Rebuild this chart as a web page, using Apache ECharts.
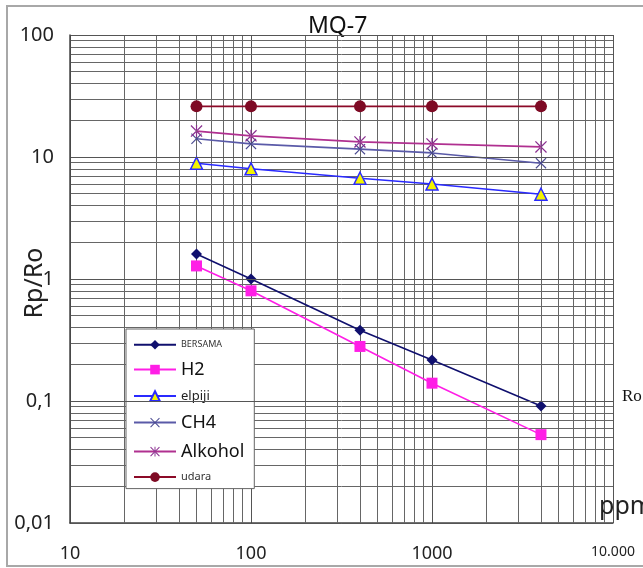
<!DOCTYPE html>
<html>
<head>
<meta charset="utf-8">
<script src="https://cdn.jsdelivr.net/npm/echarts@6/dist/echarts.min.js"></script>
<style>
  html, body { margin: 0; padding: 0; background: #fff; }
  #main { width: 643px; height: 568px; }
</style>
</head>
<body>
<div id="main"></div>
<script>
// gas concentration (ppm)
const ppm = [50, 100, 400, 1000, 4000]

// Rp/Ro per gas
const bersama = [1.6, 1.0, 0.38, 0.217, 0.091]
const h2 = [1.28, 0.8, 0.28, 0.14, 0.053]
const elpiji = [8.9, 8.0, 6.7, 6.0, 4.95]
const ch4 = [14.1, 12.8, 11.6, 10.8, 8.9]
const alkohol = [16.3, 14.9, 13.3, 12.8, 12.1]
const udara = [26, 26, 26, 26, 26]

// tick labels
const xTickLabels = ['10', '100', '1000', '10.000']
const yTickLabels = ['0,01', '0,1', '1', '10', '100']

// minor grid values (log paper)
const xMinor = [20, 30, 40, 50, 60, 70, 80, 90, 200, 300, 400, 500, 600, 700, 800, 900,
  2000, 3000, 4000, 5000, 6000, 7000, 8000, 9000]
const yMinor = [0.02, 0.03, 0.04, 0.05, 0.06, 0.07, 0.08, 0.09, 0.2, 0.3, 0.4, 0.5, 0.6, 0.7, 0.8, 0.9,
  2, 3, 4, 5, 6, 7, 8, 9, 20, 30, 40, 50, 60, 70, 80, 90]

const xSym = 'path://M0,1.5L1.5,0L10,8.5L18.5,0L20,1.5L11.5,10L20,18.5L18.5,20L10,11.5L1.5,20L0,18.5L8.5,10Z'
const starSym = 'path://M0,1.5L1.5,0L10,8.5L18.5,0L20,1.5L11.5,10L20,18.5L18.5,20L10,11.5L1.5,20L0,18.5L8.5,10Z M9,0L9,20L11,20L11,0Z'

const pairs = arr => ppm.map((x, i) => [x, arr[i]])

let myChart = echarts.init(document.getElementById('main'))

const sizeKey = { BERSAMA: 'xs', H2: 'l', elpiji: 'm', CH4: 'l', Alkohol: 'l', udara: 's' }

function mk(name, data, color, symbol, size, extra) {
  return Object.assign({
    name: name,
    type: 'line',
    data: pairs(data),
    symbol: symbol,
    symbolSize: size,
    lineStyle: { color: color, width: 1.6 },
    itemStyle: { color: color },
    z: 5
  }, extra || {})
}

myChart.setOption({
  animation: false,
  title: {
    text: 'MQ-7',
    left: 303,
    top: 10,
    textStyle: { fontFamily: 'Noto Sans', fontSize: 23, fontWeight: 'normal', color: '#111' }
  },
  grid: { left: 70, top: 35, right: 30, bottom: 45, containLabel: false, outerBoundsMode: 'none' },
  xAxis: {
    type: 'log',
    logBase: 10,
    min: 10,
    max: 10000,
    axisLine: { show: true, lineStyle: { color: '#444', width: 1.5 } },
    axisTick: { show: false },
    splitLine: { show: true, lineStyle: { color: '#555', width: 1 } },
    axisLabel: {
      margin: 22,
      color: '#222',
      fontFamily: 'Noto Sans',
      formatter: v => {
        const i = Math.round(Math.log10(v)) - 1
        return i === 3 ? '{s|' + xTickLabels[i] + '}' : '{b|' + xTickLabels[i] + '}'
      },
      rich: {
        b: { fontSize: 18, fontFamily: 'Noto Sans', color: '#222' },
        s: { fontSize: 14, fontFamily: 'Noto Sans', color: '#222' }
      }
    }
  },
  yAxis: {
    type: 'log',
    logBase: 10,
    min: 0.01,
    max: 100,
    z: 30,
    axisLine: { show: true, lineStyle: { color: '#444', width: 1.5 } },
    axisTick: { show: false },
    splitLine: { show: true, lineStyle: { color: '#555', width: 1 } },
    axisLabel: {
      margin: 16,
      fontSize: 20,
      fontFamily: 'Noto Sans',
      color: '#222',
      formatter: v => yTickLabels[Math.round(Math.log10(v)) + 2]
    }
  },
  legend: {
    orient: 'vertical',
    left: 126,
    top: 329,
    data: ['BERSAMA', 'H2', 'elpiji', 'CH4', 'Alkohol', 'udara'],
    backgroundColor: '#fff',
    borderColor: '#666',
    borderWidth: 1,
    padding: [11, 10, 6, 7],
    itemWidth: 42,
    itemHeight: 12,
    itemGap: 11,
    formatter: name => '{' + sizeKey[name] + '|' + name + '}',
    textStyle: {
      color: '#222',
      rich: {
        xs: { fontSize: 9, lineHeight: 20, fontFamily: 'Noto Sans', color: '#333' },
        s: { fontSize: 11, lineHeight: 20, fontFamily: 'Noto Sans', color: '#333' },
        m: { fontSize: 13, lineHeight: 20, fontFamily: 'Noto Sans', color: '#222' },
        l: { fontSize: 18, lineHeight: 20, fontFamily: 'Noto Sans', color: '#111' }
      }
    },
    z: 10
  },
  graphic: [
    {
      type: 'rect',
      shape: { x: 7, y: 6, width: 700, height: 560 },
      style: { fill: 'none', stroke: '#a8a8a8', lineWidth: 2 },
      silent: true
    },
    {
      type: 'text',
      x: 35,
      y: 283,
      rotation: Math.PI / 2,
      style: {
        text: 'Rp/Ro',
        font: '25px "Noto Sans"',
        fill: '#222',
        align: 'center',
        verticalAlign: 'middle'
      },
      z: 0
    },
    {
      type: 'text',
      left: 599,
      top: 494,
      style: { text: 'ppm', font: '25px "Noto Sans"', fill: '#222' },
      z: 20
    },
    {
      type: 'text',
      left: 622,
      top: 388,
      style: { text: 'Ro', font: '17px "Liberation Serif"', fill: '#111' },
      z: 20
    }
  ],
  series: [
    {
      name: 'grid',
      type: 'line',
      data: [],
      silent: true,
      z: 1,
      markLine: {
        silent: true,
        symbol: 'none',
        label: { show: false },
        animation: false,
        lineStyle: { color: '#666', width: 1, type: 'solid' },
        emphasis: { disabled: true },
        data: xMinor.map(v => ({ xAxis: v })).concat(yMinor.map(v => ({ yAxis: v })))
      }
    },
    mk('BERSAMA', bersama, '#10106e', 'diamond', 11),
    mk('H2', h2, '#ff1ee6', 'rect', 11),
    mk('elpiji', elpiji, '#2a2aff', 'triangle', 12, {
      itemStyle: { color: '#f4f400', borderColor: '#2a2aff', borderWidth: 1.5 }
    }),
    mk('CH4', ch4, '#5a5aa8', xSym, 11, { itemStyle: { color: '#4a4a90' } }),
    mk('Alkohol', alkohol, '#b03090', starSym, 12, { itemStyle: { color: '#8a3090' } }),
    mk('udara', udara, '#8c0a28', 'circle', 12, { itemStyle: { color: '#7e0a24' } })
  ]
})

window.onresize = function() {
  myChart.resize()
}
</script>
</body>
</html>
